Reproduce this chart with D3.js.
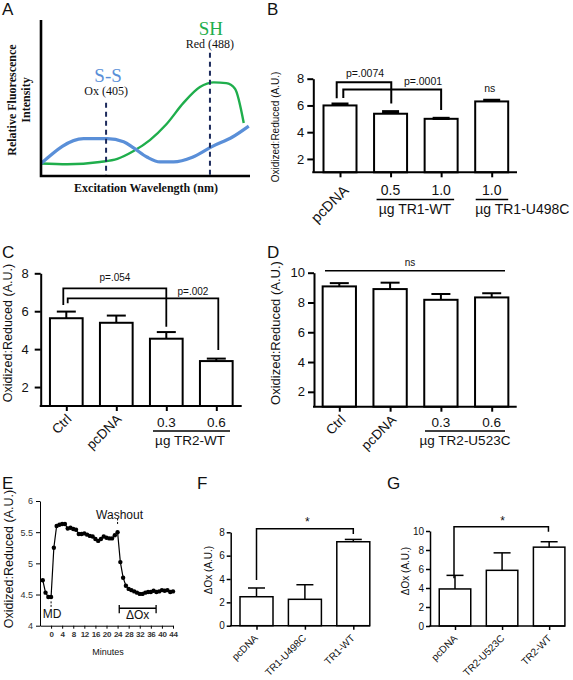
<!DOCTYPE html>
<html><head><meta charset="utf-8">
<script src="https://cdn.jsdelivr.net/npm/d3@7"></script>
<style>
body{margin:0;background:#fff}
svg{display:block;background:#fff}
</style>
</head><body>
<svg id="fig" width="573" height="680"></svg>
<script>
// ================= DATA =================
// Panel A: schematic excitation spectra
const aSSWavelength = [353, 387, 406, 419, 427, 438, 448, 459, 474, 490, 506, 519];
const aSSIntensity  = [8, 24, 24, 22, 18, 12, 9, 9, 12, 19, 25, 32];
const aSHWavelength = [353, 374, 400, 414, 427, 440, 453, 467, 480, 491, 501, 508, 515];
const aSHIntensity  = [8, 7.5, 9, 11, 16, 23, 33, 47, 57, 60, 59.5, 56, 34];
const aExcitation   = [405, 488];

// Panel B
const bCategories = ["pcDNA", "0.5", "1.0", "1.0"];
const bValues = [6.0, 5.38, 5.0, 6.3];
const bErrors = [0.1, 0.15, 0.03, 0.08];
const bTicks = [2, 4, 6, 8];

// Panel C
const cCategories = ["Ctrl", "pcDNA", "0.3", "0.6"];
const cValues = [5.63, 5.39, 4.55, 3.37];
const cErrors = [0.35, 0.38, 0.35, 0.13];
const cTicks = [2, 4, 6, 8];

// Panel D
const dCategories = ["Ctrl", "pcDNA", "0.3", "0.6"];
const dValues = [9.08, 8.9, 8.18, 8.34];
const dErrors = [0.22, 0.43, 0.39, 0.28];
const dTicks = [2, 4, 6, 8, 10];

// Panel E: time course
const eMinutes = [-3, -2, -1, 0, 1, 2, 3, 4, 5, 6, 7, 8, 9, 10, 11, 12, 13, 14, 15, 16, 17, 18, 19, 20,
  21, 22, 23, 24, 25, 26, 27, 28, 29, 30, 31, 32, 33, 34, 35, 36, 37, 38, 39, 40, 41, 42, 43, 44];
const eValues = [4.73, 4.53, 4.46, 4.46, 5.25, 5.60, 5.62, 5.63, 5.63, 5.56, 5.57, 5.55, 5.54, 5.47,
  5.47, 5.48, 5.46, 5.44, 5.43, 5.39, 5.36, 5.39, 5.43, 5.41, 5.40, 5.40, 5.45, 5.50, 5.02, 4.77,
  4.64, 4.59, 4.57, 4.55, 4.53, 4.51, 4.51, 4.53, 4.54, 4.54, 4.56, 4.54, 4.55, 4.57, 4.56, 4.57,
  4.54, 4.55];
const eXTicks = [0, 4, 8, 12, 16, 20, 24, 28, 32, 36, 40, 44];
const eYTicks = [4, 4.5, 5, 5.5, 6];

// Panel F
const fCategories = ["pcDNA", "TR1-U498C", "TR1-WT"];
const fValues = [2.48, 2.26, 7.19];
const fErrors = [0.75, 1.25, 0.2];
const fTicks = [0, 2, 4, 6, 8];

// Panel G
const gCategories = ["pcDNA", "TR2-U523C", "TR2-WT"];
const gValues = [3.9, 5.86, 8.3];
const gErrors = [1.43, 1.84, 0.57];
const gTicks = [0, 2, 4, 6, 8, 10];

// ================= DRAWING =================
const FONT = "'Liberation Sans', Arial, Helvetica, sans-serif";
const SERIF = "'Liberation Serif', 'Times New Roman', serif";
const svg = d3.select("#fig").attr("font-family", FONT);

function txt(g, x, y, s, size, anchor, extra) {
  const t = g.append("text").attr("x", x).attr("y", y).attr("font-size", size)
    .attr("text-anchor", anchor || "start").attr("fill", "#111").text(s);
  if (extra) extra(t);
  return t;
}
function vlabel(g, x, y, s, size, extra) {
  const t = g.append("text").attr("transform", `translate(${x},${y}) rotate(-90)`)
    .attr("text-anchor", "middle").attr("font-size", size).attr("fill", "#111").text(s);
  if (extra) extra(t);
  return t;
}

// panel letters
[["A", 2, 15], ["B", 267, 15], ["C", 2, 258], ["D", 267, 258], ["E", 2, 489], ["F", 197, 489], ["G", 387, 489]]
  .forEach(([l, x, y]) => txt(svg, x, y, l, 17));

// ---------- Panel A ----------
(function () {
  const g = svg.append("g");
  const x = d3.scaleLinear().domain([353, 520]).range([41, 250]);
  const y = d3.scaleLinear().domain([0, 100]).range([176, 20]);
  const line = d3.line().x(d => x(d[0])).y(d => y(d[1])).curve(d3.curveMonotoneX);
  g.append("path").datum(aSHWavelength.map((w, i) => [w, aSHIntensity[i]]))
    .attr("d", line).attr("fill", "none").attr("stroke", "#1fae4c").attr("stroke-width", 2.4);
  g.append("path").datum(aSSWavelength.map((w, i) => [w, aSSIntensity[i]]))
    .attr("d", line).attr("fill", "none").attr("stroke", "#5a8fd8").attr("stroke-width", 3.2)
    .attr("stroke-linejoin", "round");
  const tops = [47, 79];
  aExcitation.forEach((w, i) => {
    g.append("line").attr("x1", x(w)).attr("x2", x(w)).attr("y1", y(tops[i])).attr("y2", y(0))
      .attr("stroke", "#1c2a5c").attr("stroke-width", 2).attr("stroke-dasharray", "5,4");
  });
  g.append("path").attr("d", `M${x(353)},${y(100)}V${y(0)}H${x(520)}`)
    .attr("fill", "none").attr("stroke", "#000").attr("stroke-width", 2.6);
  txt(g, x(405) + 2, 82, "S-S", 19, "middle", t => t.attr("font-family", SERIF).attr("fill", "#5a8fd8"));
  txt(g, x(405), 95, "Ox (405)", 12, "middle", t => t.attr("font-family", SERIF));
  txt(g, x(488) + 1, 35, "SH", 19, "middle", t => t.attr("font-family", SERIF).attr("fill", "#1fae4c"));
  txt(g, x(488), 48, "Red (488)", 12, "middle", t => t.attr("font-family", SERIF));
  txt(g, 146, 192, "Excitation Wavelength (nm)", 12, "middle",
    t => t.attr("font-family", SERIF).attr("font-weight", "bold"));
  vlabel(g, 16, 100, "Relative Fluorescence", 12, t => t.attr("font-family", SERIF).attr("font-weight", "bold"));
  vlabel(g, 30, 100, "Intensity", 12, t => t.attr("font-family", SERIF).attr("font-weight", "bold"));
})();

// ---------- generic bar panel ----------
function barPanel(o) {
  const g = svg.append("g");
  const y = d3.scaleLinear().domain(o.domain).range(o.yRange);
  const x = d3.scalePoint().domain(o.values.map((d, i) => i)).range(o.centers);
  const base = o.yRange[0];
  g.selectAll("rect.bar").data(o.values).join("rect").attr("class", "bar")
    .attr("x", (d, i) => x(i) - o.barW / 2).attr("y", d => y(d))
    .attr("width", o.barW).attr("height", d => base - y(d))
    .attr("fill", "#fff").attr("stroke", "#000").attr("stroke-width", o.barStroke);
  const eg = g.append("g").attr("stroke", "#000");
  o.values.forEach((v, i) => {
    const top = y(v + o.errors[i]);
    eg.append("line").attr("x1", x(i)).attr("x2", x(i)).attr("y1", y(v)).attr("y2", top)
      .attr("stroke-width", o.errW);
    eg.append("line").attr("x1", x(i) - o.capW / 2).attr("x2", x(i) + o.capW / 2)
      .attr("y1", top).attr("y2", top).attr("stroke-width", o.capStroke || o.errW);
  });
  const yg = g.append("g").attr("transform", `translate(${o.axisX},0)`)
    .call(d3.axisLeft(y).tickValues(o.ticks).tickSize(o.tickLen).tickSizeOuter(0)
      .tickPadding(o.tickPad).tickFormat(d3.format("d")));
  yg.select(".domain").attr("stroke-width", o.axisW);
  yg.selectAll(".tick line").attr("stroke-width", o.axisW);
  yg.selectAll(".tick text").attr("font-size", o.tickFont).attr("font-family", FONT).attr("fill", "#111");
  g.append("line").attr("x1", o.axisX - o.axisW / 2).attr("x2", o.axisEnd)
    .attr("y1", base).attr("y2", base).attr("stroke", "#000").attr("stroke-width", o.axisW);
  const xg = g.append("g").attr("transform", `translate(0,${base})`)
    .call(d3.axisBottom(x).tickSize(o.xTickLen).tickSizeOuter(0).tickFormat(""));
  xg.select(".domain").remove();
  xg.selectAll(".tick line").attr("stroke-width", o.axisW);
  return { g, x, y, base };
}
function rotLabels(p, labels, idx, dx, dy, size) {
  idx.forEach(i => p.g.append("text")
    .attr("transform", `translate(${p.x(i) + dx},${p.base + dy}) rotate(-45)`)
    .attr("text-anchor", "end").attr("font-size", size).attr("fill", "#111").text(labels[i]));
}
function bracket(p, x1, x2, yTop, yL, yR, w) {
  p.g.append("path").attr("d", `M${x1},${p.y(yL)}V${p.y(yTop)}H${x2}V${p.y(yR)}`)
    .attr("fill", "none").attr("stroke", "#000").attr("stroke-width", w);
}

// ---------- Panel B ----------
(function () {
  const p = barPanel({
    values: bValues, errors: bErrors, domain: [1, 8], yRange: [172.3, 78.7],
    centers: [340, 491.7], axisX: 313.3, axisEnd: 517, barW: 33, barStroke: 2,
    errW: 2, capStroke: 3.2, capW: 17, ticks: bTicks, tickLen: 6, tickPad: 3, tickFont: 13,
    axisW: 2, xTickLen: 5
  });
  rotLabels(p, bCategories, [0], 9.5, 19, 14.5);
  txt(p.g, p.x(1), 195, bCategories[1], 14, "middle");
  txt(p.g, p.x(2), 195, bCategories[2], 14, "middle");
  txt(p.g, p.x(3), 195, bCategories[3], 14, "middle");
  p.g.append("line").attr("x1", p.x(1) - 14).attr("x2", p.x(2) + 13).attr("y1", 199.5).attr("y2", 199.5)
    .attr("stroke", "#000").attr("stroke-width", 1.5);
  p.g.append("line").attr("x1", p.x(3) - 16).attr("x2", p.x(3) + 16.5).attr("y1", 199.5).attr("y2", 199.5)
    .attr("stroke", "#000").attr("stroke-width", 1.5);
  txt(p.g, (p.x(1) + p.x(2)) / 2 - 1, 214, "µg TR1-WT", 14, "middle");
  txt(p.g, p.x(3) - 16.5, 214, "µg TR1-U498C", 14, "start");
  bracket(p, p.x(0) - 3.3, p.x(1) + 0.7, 7.73, 6.53, 6.15, 2);
  bracket(p, p.x(0) + 3.3, p.x(2), 7.2, 6.55, 5.65, 2);
  txt(p.g, 365, 77, "p=.0074", 10.5, "middle");
  txt(p.g, 423, 85, "p=.0001", 10.5, "middle");
  txt(p.g, p.x(3) - 2, 92, "ns", 10.5, "middle");
  vlabel(p.g, 279, 127, "Oxidized:Reduced (A.U.)", 10);
})();

// ---------- Panel C ----------
(function () {
  const p = barPanel({
    values: cValues, errors: cErrors, domain: [1, 8], yRange: [406, 273.3],
    centers: [66.3, 216.3], axisX: 40.7, axisEnd: 241.7, barW: 32.7, barStroke: 2,
    errW: 2, capW: 19, ticks: cTicks, tickLen: 6, tickPad: 6, tickFont: 13,
    axisW: 2, xTickLen: 5
  });
  rotLabels(p, cCategories, [0, 1], 6, 14, 13.5);
  txt(p.g, p.x(2), 427, cCategories[2], 13.5, "middle");
  txt(p.g, p.x(3), 427, cCategories[3], 13.5, "middle");
  p.g.append("line").attr("x1", 153).attr("x2", 230).attr("y1", 431).attr("y2", 431)
    .attr("stroke", "#000").attr("stroke-width", 1.5);
  txt(p.g, 190, 445, "µg TR2-WT", 13.5, "middle");
  bracket(p, p.x(0) - 3, p.x(2), 7.21, 6.33, 5.18, 1.8);
  bracket(p, p.x(0) + 1.4, p.x(3) + 2, 6.68, 6.42, 3.95, 1.8);
  txt(p.g, 115, 281, "p=.054", 10, "middle");
  txt(p.g, 193, 294.5, "p=.002", 10, "middle");
  vlabel(p.g, 12, 333, "Oxidized:Reduced (A.U.)", 12.5);
})();

// ---------- Panel D ----------
(function () {
  const p = barPanel({
    values: dValues, errors: dErrors, domain: [1, 10], yRange: [406.7, 272.7],
    centers: [339.3, 491.7], axisX: 314, axisEnd: 516.7, barW: 33.3, barStroke: 2,
    errW: 2, capW: 19, ticks: dTicks, tickLen: 6, tickPad: 3, tickFont: 13,
    axisW: 2, xTickLen: 5
  });
  rotLabels(p, dCategories, [0, 1], 7, 14, 13.5);
  txt(p.g, p.x(2), 427, dCategories[2], 13.5, "middle");
  txt(p.g, p.x(3), 427, dCategories[3], 13.5, "middle");
  p.g.append("line").attr("x1", 425).attr("x2", 505).attr("y1", 431).attr("y2", 431)
    .attr("stroke", "#000").attr("stroke-width", 1.5);
  txt(p.g, 465, 445, "µg TR2-U523C", 13.5, "middle");
  p.g.append("line").attr("x1", p.x(0) - 14.3).attr("x2", p.x(3) + 13.3)
    .attr("y1", p.y(10.13)).attr("y2", p.y(10.13)).attr("stroke", "#000").attr("stroke-width", 1.5);
  txt(p.g, 410, 266, "ns", 10, "middle");
  vlabel(p.g, 280, 333, "Oxidized:Reduced (A.U.)", 13);
})();

// ---------- Panel E ----------
(function () {
  const g = svg.append("g");
  const x = d3.scaleLinear().domain([-4, 44]).range([40, 173]);
  const y = d3.scaleLinear().domain([4, 6]).range([625.7, 501]);
  const yg = g.append("g").attr("transform", "translate(40,0)")
    .call(d3.axisLeft(y).tickValues(eYTicks).tickSize(4).tickSizeOuter(0).tickPadding(3)
      .tickFormat(d => d3.format("~g")(d)));
  yg.selectAll(".tick text").attr("font-size", 9).attr("font-family", FONT).attr("fill", "#333");
  const xg = g.append("g").attr("transform", "translate(0,625.7)")
    .call(d3.axisBottom(x).tickValues(eXTicks).tickSize(3).tickSizeOuter(0).tickPadding(3));
  xg.selectAll(".tick text").attr("font-size", 8).attr("font-weight", "bold")
    .attr("font-family", FONT).attr("fill", "#333").attr("letter-spacing", -0.3);
  const pts = eMinutes.map((m, i) => [m, eValues[i]]);
  g.append("path").datum(pts).attr("d", d3.line().x(d => x(d[0])).y(d => y(d[1])))
    .attr("fill", "none").attr("stroke", "#000").attr("stroke-width", 1.2);
  g.selectAll("circle").data(pts).join("circle").attr("cx", d => x(d[0])).attr("cy", d => y(d[1]))
    .attr("r", 2.2).attr("fill", "#000");
  g.append("line").attr("x1", x(0)).attr("x2", x(0)).attr("y1", y(4.39)).attr("y2", y(4.3))
    .attr("stroke", "#000").attr("stroke-width", 1).attr("stroke-dasharray", "2,1.5");
  txt(g, x(0) + 1, 618, "MD", 12, "middle");
  g.append("line").attr("x1", x(24)).attr("x2", x(24)).attr("y1", y(5.72)).attr("y2", y(5.62))
    .attr("stroke", "#000").attr("stroke-width", 1).attr("stroke-dasharray", "2,1.5");
  txt(g, x(24) + 2, 518.5, "Washout", 12, "middle");
  g.append("path").attr("d",
    `M${x(24.6)},${y(4.33)}V${y(4.2)}M${x(24.6)},${y(4.28)}H${x(37.9)}M${x(37.9)},${y(4.33)}V${y(4.2)}`)
    .attr("fill", "none").attr("stroke", "#000").attr("stroke-width", 1.3);
  txt(g, 137.7, 619, "ΔOx", 12, "middle");
  txt(g, 108, 655, "Minutes", 9, "middle");
  vlabel(g, 12.5, 559, "Oxidized:Reduced (A.U.)", 12.5);
})();

// ---------- Panel F ----------
(function () {
  const p = barPanel({
    values: fValues, errors: fErrors, domain: [0, 8], yRange: [625.7, 532.3],
    centers: [256.5, 353.3], axisX: 230.7, axisEnd: 370, barW: 33, barStroke: 1.5,
    errW: 1.5, capW: 17, ticks: fTicks, tickLen: 4, tickPad: 2, tickFont: 10,
    axisW: 1.5, xTickLen: 4
  });
  rotLabels(p, fCategories, [0, 1, 2], 2, 13, 10);
  bracket(p, p.x(0), p.x(2), 8.31, 3.91, 7.85, 1.5);
  txt(p.g, 307.3, 526, "*", 12, "middle");
  vlabel(p.g, 212, 570, "ΔOx (A.U.)", 10);
})();

// ---------- Panel G ----------
(function () {
  const p = barPanel({
    values: gValues, errors: gErrors, domain: [0, 10], yRange: [626, 531],
    centers: [455, 549.15], axisX: 430, axisEnd: 565, barW: 31.5, barStroke: 1.5,
    errW: 1.5, capW: 17, ticks: gTicks, tickLen: 4, tickPad: 2, tickFont: 10,
    axisW: 1.5, xTickLen: 4
  });
  rotLabels(p, gCategories, [0, 1, 2], 3, 13, 10);
  bracket(p, p.x(0) - 1, p.x(2) - 0.7, 10.45, 5.02, 9.93, 1.5);
  txt(p.g, 502.7, 525, "*", 12, "middle");
  vlabel(p.g, 409, 571, "ΔOx (A.U.)", 10);
})();
</script>
</body></html>
